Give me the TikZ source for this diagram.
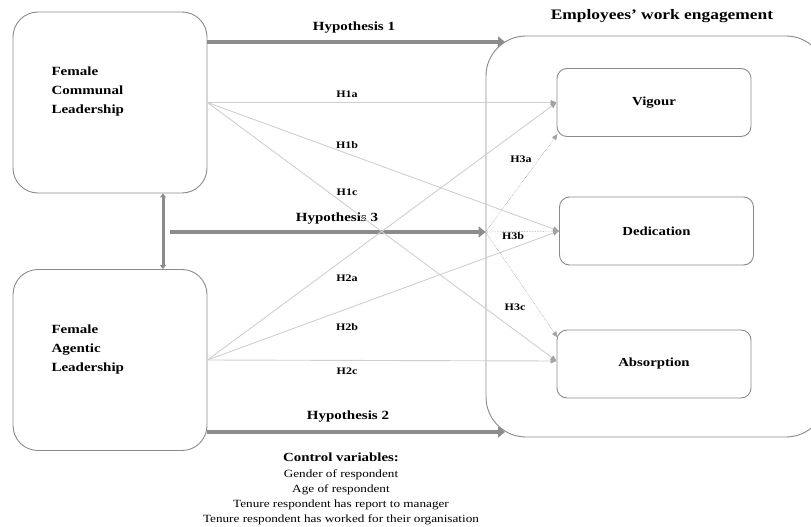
\documentclass[tikz,border=0pt]{standalone}
\usepackage{fontspec}
\setmainfont{Liberation Serif}[FakeStretch=1.2]
\usetikzlibrary{arrows.meta,calc}
\definecolor{thick}{HTML}{8C8C8C}
\definecolor{thin}{HTML}{CFCFCF}
\definecolor{edge}{HTML}{8A8A8A}
\tikzset{
  leadbox/.style={draw=edge, line width=0.9pt, rounded corners=25pt, minimum width=194pt, minimum height=181pt, inner sep=0pt},
  dimbox/.style={draw=edge, line width=0.9pt, rounded corners=10pt, minimum width=194pt, minimum height=68pt, font=\bfseries\fontsize{12.3}{14}\selectfont},
  bigarrow/.style={draw=thick, line width=4.5pt, -{Triangle[length=7pt,width=11pt]}},
  thinarrow/.style={draw=thin, line width=0.9pt, -{Triangle[length=6pt,width=5pt,color=thick!80]}},
  dotarrow/.style={draw=thick!80, line width=0.6pt, densely dotted, -{Triangle[length=6pt,width=5pt]}},
  hlab/.style={font=\bfseries\fontsize{12.5}{14}\selectfont},
  slab/.style={font=\bfseries\fontsize{10}{12}\selectfont},
}
\begin{document}
\begin{tikzpicture}[x=1pt,y=-1pt]
\useasboundingbox (0,0) rectangle (811,527);
% leadership boxes
\node[leadbox] (com) at (110,102.5) {};
\node[leadbox] (agt) at (110,360) {};
\node[anchor=west, align=left, font=\bfseries\fontsize{12.5}{19}\selectfont] (comt) at (48,91) {Female\\Communal\\Leadership};
\node[anchor=west, align=left, font=\bfseries\fontsize{12.5}{19}\selectfont] (agtt) at (48,349) {Female\\Agentic\\Leadership};
% engagement container
\node[draw=edge, line width=0.9pt, rounded corners=40pt, minimum width=340pt, minimum height=401pt, inner sep=0pt] (eng) at (656,236.5) {};
\node[font=\bfseries\fontsize{14.5}{16}\selectfont] (title) at (662,16) {Employees’ work engagement};
\node[dimbox] (vig) at (654,102.5) {Vigour};
\node[dimbox] (ded) at (656.5,231) {Dedication};
\node[dimbox] (abs) at (654,364) {Absorption};
% coordinates
\coordinate (h1s) at (com.east |- 0,42);
\coordinate (h1e) at (505,42);
\coordinate (h2s) at (agt.east |- 0,432);
\coordinate (h2e) at (505,432);
\coordinate (h3s) at (170,232);
\coordinate (h3e) at (eng.west |- 0,232);
\coordinate (va) at (vig.west);
\coordinate (vb) at ($(vig.south west)+(1,-3)$);
\coordinate (ab) at ($(abs.north west)+(1,8)$);
\coordinate (aa) at ($(abs.west)+(0,-3)$);
% big arrows
\draw[bigarrow] (h1s) -- (h1e);
\draw[bigarrow] (h2s) -- (h2e);
\draw[bigarrow] (h3s) -- (h3e);
\draw[draw=thick, line width=3pt, {Triangle[length=4pt,width=6pt]}-{Triangle[length=4pt,width=6pt]}] (com.south -| 163,0) -- (agt.north -| 163,0);
\node[hlab] (l1) at (354,28) {Hypothesis 1};
\node[hlab] (l2) at (348,417) {Hypothesis 2};
\node[hlab] (l3) at (337,219) {Hypothesis 3};
% thin arrows
\draw[thinarrow] (com.east) -- (va);
\draw[thinarrow] (com.east) -- (ded.west);
\draw[thinarrow] (com.east) -- (aa);
\draw[thinarrow] (agt.east) -- (va);
\draw[thinarrow] (agt.east) -- (ded.west);
\draw[thinarrow] (agt.east) -- (aa);
\node[slab] (lh1a) at (347,94) {H1a};
\node[slab] (lh1b) at (347,145) {H1b};
\node[slab] (lh1c) at (347,192) {H1c};
\node[slab] (lh2a) at (347,278) {H2a};
\node[slab] (lh2b) at (347,327) {H2b};
\node[slab] (lh2c) at (347,371) {H2c};
% dotted H3 arrows
\draw[dotarrow] (h3e) -- (vb);
\draw[dotarrow] (h3e) -- (ded.west);
\draw[dotarrow] (h3e) -- (ab);
\node[slab] (lh3a) at (521,159) {H3a};
\node[slab] (lh3b) at (513,236) {H3b};
\node[slab] (lh3c) at (515,307) {H3c};
% control variables
\node[font=\bfseries\fontsize{12.4}{14}\selectfont] (ctrl) at (341,457) {Control variables:};
\node[align=center, font=\fontsize{11}{15}\selectfont] (ctrll) at (341,497) {Gender of respondent\\Age of respondent\\Tenure respondent has report to manager\\Tenure respondent has worked for their organisation};
\end{tikzpicture}
\end{document}
